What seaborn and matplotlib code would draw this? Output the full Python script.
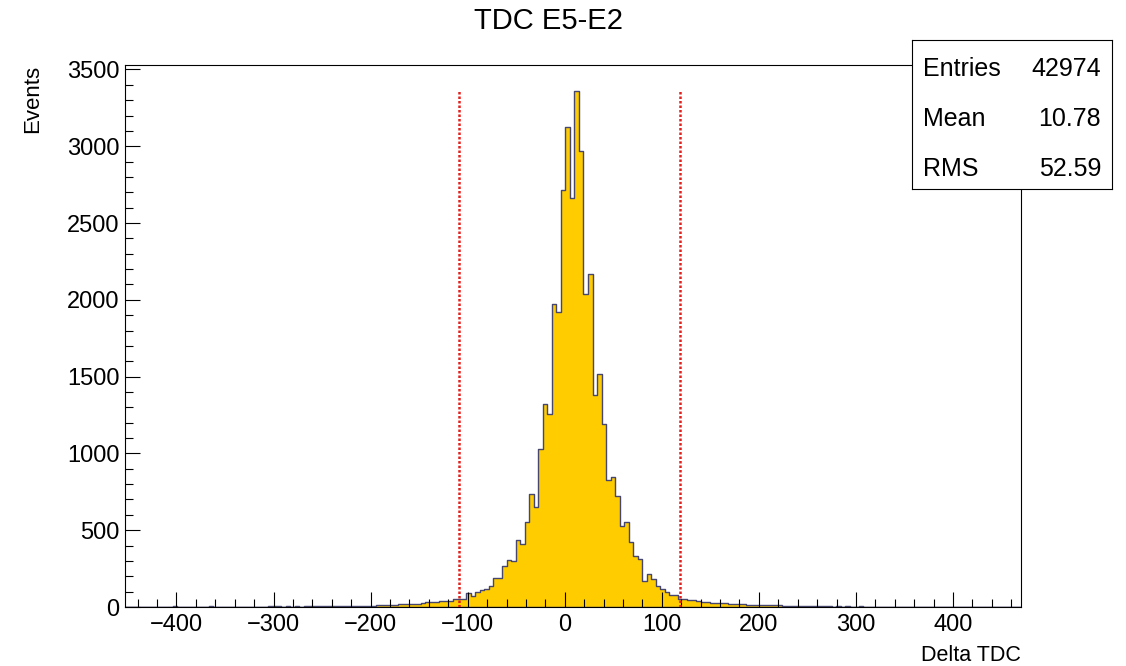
import numpy as np
import pandas as pd
import matplotlib
matplotlib.use("Agg")
import matplotlib.pyplot as plt
from matplotlib.ticker import MultipleLocator
import seaborn as sns

# Histogram binning of the TDC difference
bin_start = -455.0
bin_width = 4.65

# Bin contents, split into the left tail, the core and the right tail
left_tail = [1, 0, 1, 1, 0, 1, 2, 1, 1, 0, 1,
             4,
             1, 2, 1, 1, 2, 1, 2,
             4,
             2, 1, 2, 2, 3, 2, 2, 3, 2, 3, 2, 3,
             5, 5, 4, 3, 5, 3, 4, 3, 5, 4, 4, 6, 6, 5, 6, 5, 7, 6,
             7, 8, 7, 8, 9, 9]
core = [10, 11, 12, 14, 13, 17, 17, 20, 22, 22, 26, 30, 34, 35, 36, 38, 41, 50, 52, 53,
        89, 74, 96, 108, 115, 137, 189, 189, 269, 306, 300, 436, 410, 552, 734, 649,
        1027, 1325, 1257, 1974, 1920, 2717, 3123, 2665, 3361, 2971, 2041, 2167,
        1381, 1520, 1192, 825, 845, 725, 525, 552, 426, 334, 313, 169, 217, 180,
        138, 115, 100, 78, 75, 52,
        50, 47, 44, 40, 30, 35, 26, 27, 24, 25, 22, 21, 18, 17, 16, 15, 14, 13,
        12, 11, 11, 10, 9, 9, 8, 7, 7]
right_tail = [6, 5, 6, 5, 4,
              4, 3, 5, 3, 4, 2, 3, 4, 2, 3, 2, 3, 2, 2, 3,
              2, 1, 2, 1, 3, 1, 1, 2, 1, 0, 1, 2, 1, 0, 1, 1, 0, 1, 0, 1, 1, 0, 0, 1,
              0, 0, 1, 0]

# Selection window
cut_lo, cut_hi = -109, 119

# Statistics box
stats_labels = ["Entries", "Mean", "RMS"]
stats_values = ["42974", "10.78", "52.59"]

title = "TDC E5-E2"
x_title = "Delta TDC"
y_title = "Events"

counts = np.array(left_tail + core + right_tail, dtype=float)
edges = bin_start + bin_width * np.arange(len(counts) + 1)
centers = 0.5 * (edges[:-1] + edges[1:])
df = pd.DataFrame({"delta": centers, "n": counts})

sns.set_theme(style="white")
plt.rcParams["font.family"] = ["Liberation Sans", "DejaVu Sans"]

W, H = 1126, 666
fig = plt.figure(figsize=(W / 100, H / 100), dpi=100)
fig.patch.set_facecolor("white")
ax_l, ax_r, ax_t, ax_b = 125, 1021, 65, 607
ax = fig.add_axes([ax_l / W, 1 - ax_b / H, (ax_r - ax_l) / W, (ax_b - ax_t) / H])

sns.histplot(data=df, x="delta", weights="n", bins=edges.tolist(), element="step",
             fill=True, color="#ffcc00", edgecolor="#46466e", linewidth=1.0, alpha=1.0,
             ax=ax, zorder=2)

ax.vlines([cut_lo, cut_hi], 0, counts.max(), colors="#e3201c",
          linestyles=(0, (1, 0.8)), linewidth=1.8, zorder=3)

ax.set_xlim(-453, 470)
ax.set_ylim(0, counts.max() * 1.05)

ax.xaxis.set_major_locator(MultipleLocator(100))
ax.xaxis.set_minor_locator(MultipleLocator(20))
ax.yaxis.set_major_locator(MultipleLocator(500))
ax.yaxis.set_minor_locator(MultipleLocator(100))
ax.tick_params(which="both", direction="in", bottom=True, left=True, top=False,
               right=False, colors="black", labelcolor="black", width=0.8)
ax.tick_params(which="major", length=11, labelsize=17, pad=4)
ax.tick_params(which="minor", length=5.5)
ax.tick_params(axis="x", which="major", pad=5)
ax.set_axisbelow(False)

for s in ax.spines.values():
    s.set_color("black")
    s.set_linewidth(0.8)
    s.set_visible(True)

ax.set_ylabel(y_title, loc="top", fontsize=16, color="black")
ax.yaxis.set_label_coords(-(ax_l - 43) / (ax_r - ax_l), 1.0)
ax.set_xlabel(x_title, loc="right", fontsize=15.5, color="black")
ax.xaxis.set_label_coords(1.0, -(645 - ax_b) / (ax_b - ax_t))

fig.text(549 / W, 1 - 21 / H, title, ha="center", va="center", fontsize=21, color="black")

# Statistics box in the top right corner
bx_l, bx_r, bx_t, bx_b = 912, 1112, 40, 189
bx = fig.add_axes([bx_l / W, 1 - bx_b / H, (bx_r - bx_l) / W, (bx_b - bx_t) / H])
bx.set_facecolor("white")
bx.set_xticks([])
bx.set_yticks([])
for s in bx.spines.values():
    s.set_color("black")
    s.set_linewidth(0.8)
row_y = [67, 116, 166]
for lab, val, yy in zip(stats_labels, stats_values, row_y):
    fy = 1 - (yy - bx_t) / (bx_b - bx_t)
    bx.text((923 - bx_l) / (bx_r - bx_l), fy, lab, ha="left", va="center_baseline",
            fontsize=18, color="black", transform=bx.transAxes)
    bx.text((1101 - bx_l) / (bx_r - bx_l), fy, val, ha="right", va="center_baseline",
            fontsize=18, color="black", transform=bx.transAxes)

fig.savefig("out.png", dpi=100, facecolor="white")
